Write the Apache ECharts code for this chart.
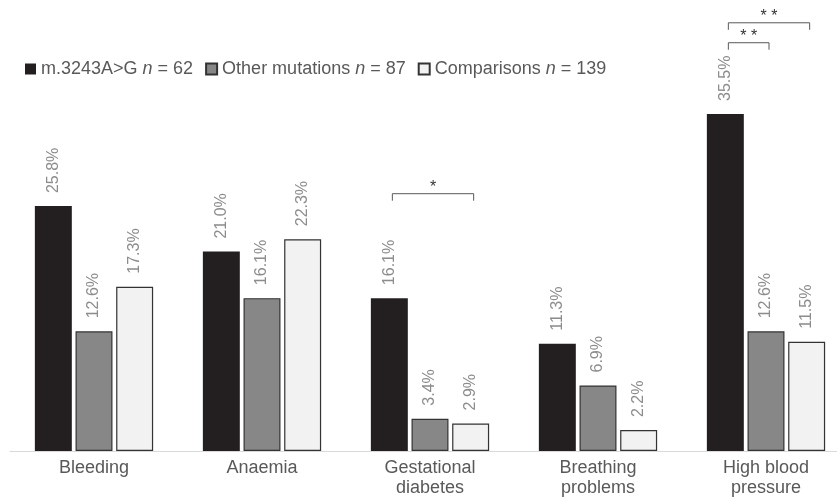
<!DOCTYPE html>
<html><head><meta charset="utf-8">
<script src="https://cdn.jsdelivr.net/npm/echarts@6/dist/echarts.min.js"></script>
<style>html,body{margin:0;padding:0;background:#fff}#c{width:837px;height:498px}</style>
</head><body><div id="c"></div>
<script>
var categories = ['Bleeding', 'Anaemia', 'Gestational\ndiabetes', 'Breathing\nproblems', 'High blood\npressure'];
var seriesNames = ['m.3243A>G', 'Other mutations', 'Comparisons'];
var seriesN = [62, 87, 139];
var m3243 = [25.8, 21.0, 16.1, 11.3, 35.5];
var otherMut = [12.6, 16.1, 3.4, 6.9, 12.6];
var comparisons = [17.3, 22.3, 2.9, 2.2, 11.5];
// significance brackets: [category index, from series, to series, level (%), stars]
var brackets = [
  [2, 0, 2, 27.1, '*'],
  [4, 0, 1, 43.0, '* *'],
  [4, 0, 2, 45.1, '* *']
];

var BAR_W = 0.22, BAR_GAP = 0.10;
var FONT = 'Liberation Sans';
var chart = echarts.init(document.getElementById('c'));
var colors = ['#231f20', '#878787', '#f2f2f3'];
var borders = ['#231f20', '#333333', '#333333'];
var valuesArr = [m3243, otherMut, comparisons];

var barSeries = seriesNames.map(function (nm, i) {
  return {
    name: nm, type: 'bar', data: valuesArr[i],
    barWidth: (BAR_W * 100) + '%', barGap: (BAR_GAP * 100) + '%',
    itemStyle: { color: colors[i], borderColor: borders[i], borderWidth: i === 0 ? 0 : 1.2 },
    label: {
      show: true, position: 'top', rotate: 90, distance: 13,
      align: 'left', verticalAlign: 'middle',
      formatter: function (p) { return p.value.toFixed(1) + '%'; },
      color: '#8c8c8c', fontSize: 16, fontFamily: FONT
    }
  };
});

var bracketSeries = {
  type: 'custom', data: brackets, encode: { x: 0, y: 3 }, z: 10, silent: true,
  renderItem: function (params, api) {
    var c = api.value(0), a = api.value(1), b = api.value(2), lv = api.value(3);
    var stars = brackets[params.dataIndex][4];
    var p = api.coord([c, lv]);
    var band = api.size([1, 0])[0];
    var bw = band * BAR_W, step = bw * (1 + BAR_GAP);
    var x1 = p[0] + (a - 1) * step + 3, x2 = p[0] + (b - 1) * step + 3, y = p[1];
    return {
      type: 'group', children: [
        { type: 'polyline', shape: { points: [[x1, y + 7], [x1, y], [x2, y], [x2, y + 7]] },
          style: { stroke: '#595959', lineWidth: 1, fill: null } },
        { type: 'text', style: { text: stars, x: (x1 + x2) / 2, y: y - 6, align: 'center', verticalAlign: 'middle',
          fill: '#333333', font: '16px ' + FONT } }
      ]
    };
  }
};

var legendMap = {};
seriesNames.forEach(function (nm, i) { legendMap[nm] = seriesN[i]; });

chart.setOption({
  animation: false,
  legend: {
    left: 20, top: 55, itemWidth: 11, itemHeight: 11, itemGap: 12, icon: 'rect',
    data: seriesNames,
    formatter: function (nm) { return nm + ' {i|n} = ' + legendMap[nm]; },
    textStyle: { color: '#595959', fontSize: 18, fontFamily: FONT,
      rich: { i: { fontStyle: 'italic', color: '#595959', fontSize: 18, fontFamily: FONT } } }
  },
  grid: { left: 10, width: 840, top: 0, bottom: 47, containLabel: false, outerBoundsMode: 'none' },
  xAxis: {
    type: 'category', data: categories,
    axisLine: { lineStyle: { color: '#d9d9d9', width: 1 } }, axisTick: { show: false },
    axisLabel: { color: '#595959', fontSize: 18, fontFamily: FONT, margin: 7, lineHeight: 20, interval: 0 }
  },
  yAxis: { type: 'value', min: 0, max: 47.5, show: false, splitLine: { show: false } },
  series: barSeries.concat([bracketSeries])
});
</script></body></html>
